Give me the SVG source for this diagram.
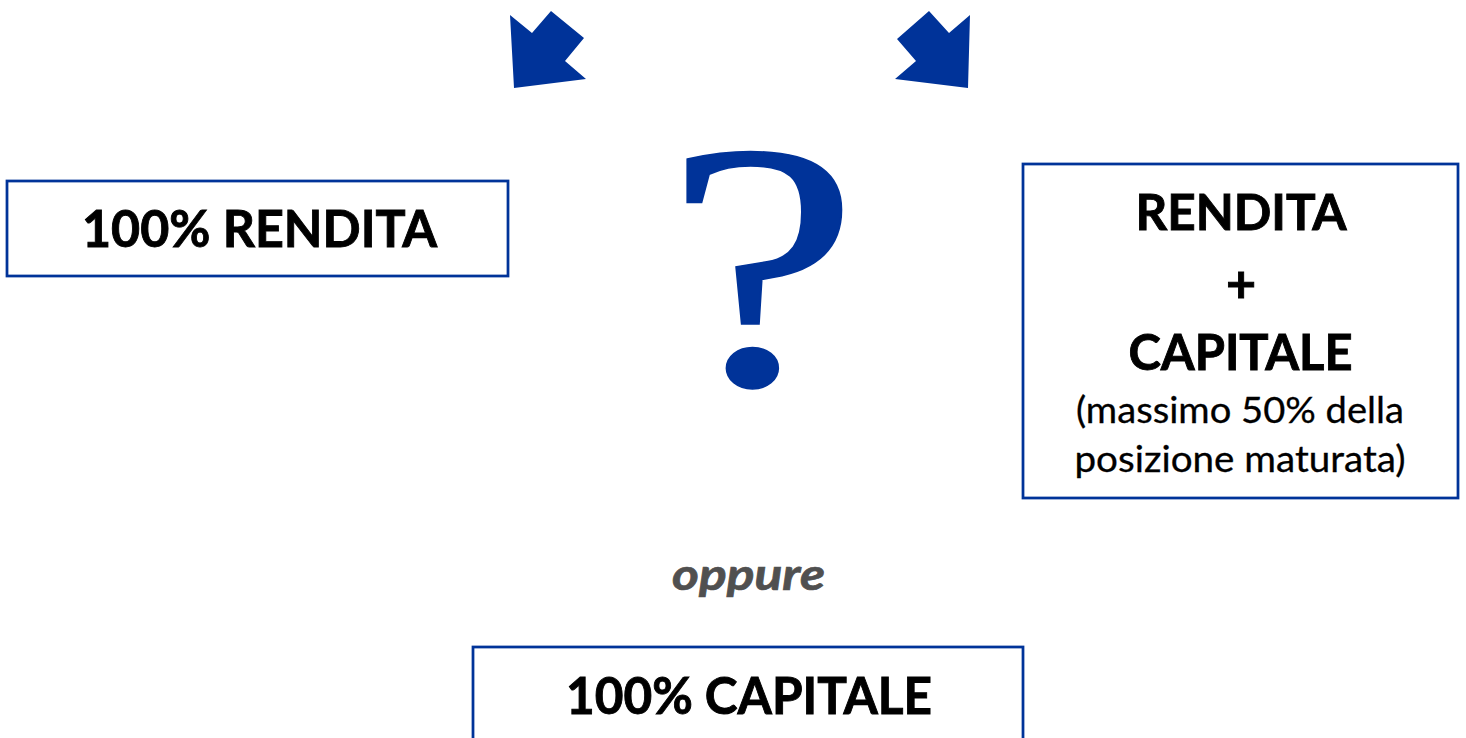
<svg xmlns="http://www.w3.org/2000/svg" width="1466" height="738" viewBox="0 0 1466 738">
<style>
.box{fill:#ffffff;stroke:#003399;stroke-width:2.75}
.arrow{fill:#003399}
.big{font-family:Lato,"Open Sans","Liberation Sans",sans-serif;font-weight:bold;fill:#000000;stroke:#000000;stroke-width:0.9;text-anchor:middle}
.small{font-family:Lato,"Open Sans","Liberation Sans",sans-serif;font-weight:normal;fill:#000000;stroke:#000000;stroke-width:0.3;text-anchor:middle}
</style>
<rect width="1466" height="738" fill="#ffffff"/>
<g id="connectors">
<polygon class="arrow" points="510,15 532,33 551,11 584,38 565,61 586,79 514,88"/>
<polygon class="arrow" points="970,15 949,33 929,11 897,39 916,61 895,79 968,88"/>
</g>
<g id="question">
<text transform="translate(762,384) scale(1.25,1)" x="0" y="0" font-family="'Liberation Serif',serif" font-size="351" fill="#003399" stroke="#003399" stroke-width="1.5" text-anchor="middle">?</text>
</g>
<g id="node-rendita">
<rect class="box" x="7" y="181" width="501" height="95"/>
<text class="big" x="259.5" y="246.5" font-size="52" textLength="355" lengthAdjust="spacingAndGlyphs">100% RENDITA</text>
</g>
<g id="node-rendita-capitale">
<rect class="box" x="1023" y="164" width="435" height="334"/>
<text class="big" x="1241" y="230" font-size="50" textLength="211" lengthAdjust="spacingAndGlyphs">RENDITA</text>
<text class="big" x="1241" y="302" font-size="52">+</text>
<text class="big" x="1240.5" y="370" font-size="50" textLength="224" lengthAdjust="spacingAndGlyphs">CAPITALE</text>
<text class="small" x="1240" y="423" font-size="36" textLength="328" lengthAdjust="spacingAndGlyphs">(massimo 50% della</text>
<text class="small" x="1240" y="471.5" font-size="36" textLength="331" lengthAdjust="spacingAndGlyphs">posizione maturata)</text>
</g>
<g id="label-oppure">
<text x="748.5" y="590" font-family="Lato,'Open Sans','Liberation Sans',sans-serif" font-weight="bold" font-style="italic" font-size="43" fill="#505050" stroke="#505050" stroke-width="0.7" text-anchor="middle" textLength="153" lengthAdjust="spacingAndGlyphs">oppure</text>
</g>
<g id="node-capitale">
<rect class="box" x="473" y="647" width="550" height="110"/>
<text class="big" x="749" y="713.5" font-size="51" textLength="366" lengthAdjust="spacingAndGlyphs">100% CAPITALE</text>
</g>
</svg>
